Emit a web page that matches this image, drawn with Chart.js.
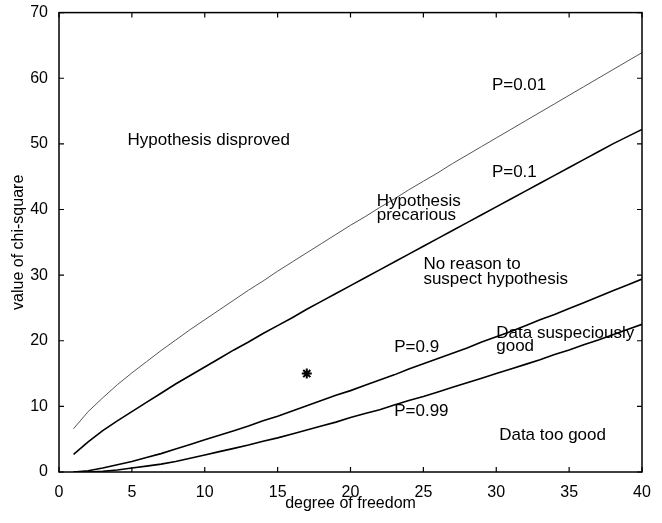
<!DOCTYPE html>
<html>
<head>
<meta charset="utf-8">
<script src="https://cdn.jsdelivr.net/npm/chart.js@4.4.1/dist/chart.umd.min.js"></script>
<style>
  html, body { margin: 0; padding: 0; background: #fff; }
  #wrap { width: 662px; height: 523px; }
</style>
</head>
<body>
<div id="wrap"><canvas id="chiChart" width="662" height="523"></canvas></div>
<script>
// degrees of freedom
const dof = [1,2,3,4,5,6,7,8,9,10,11,12,13,14,15,16,17,18,19,20,
             21,22,23,24,25,26,27,28,29,30,31,32,33,34,35,36,37,38,39,40];

// chi-square values
const p001 = [6.6,9.2,11.3,13.3,15.1,16.8,18.5,20.1,21.7,23.2,24.7,26.2,27.7,29.1,30.6,32.0,33.4,34.8,36.2,37.6,
              38.9,40.3,41.6,43.0,44.3,45.6,47.0,48.3,49.6,50.9,52.2,53.5,54.8,56.1,57.4,58.7,60.0,61.3,62.6,63.9];
const p01  = [2.7,4.6,6.3,7.8,9.2,10.6,12.0,13.4,14.7,16.0,17.3,18.6,19.8,21.1,22.3,23.5,24.8,26.0,27.2,28.4,
              29.6,30.8,32.0,33.2,34.4,35.6,36.8,38.0,39.2,40.4,41.6,42.8,44.0,45.2,46.4,47.6,48.8,50.0,51.1,52.2];
const p09  = [0.0,0.2,0.6,1.1,1.6,2.2,2.8,3.5,4.2,4.9,5.6,6.3,7.0,7.8,8.5,9.3,10.1,10.9,11.7,12.4,
              13.2,14.0,14.8,15.7,16.5,17.3,18.1,18.9,19.8,20.6,21.4,22.3,23.2,24.0,24.9,25.8,26.7,27.6,28.5,29.4];
const p099 = [0.0,0.0,0.1,0.3,0.6,0.9,1.2,1.6,2.1,2.6,3.1,3.6,4.1,4.7,5.2,5.8,6.4,7.0,7.6,8.3,
              8.9,9.5,10.2,10.9,11.5,12.2,12.9,13.6,14.3,15.0,15.7,16.4,17.1,17.9,18.6,19.4,20.1,20.9,21.7,22.5];

// the single observed point
const observed = [{ x: 17, y: 15 }];

// tick labels
const xTicks = [0,5,10,15,20,25,30,35,40];
const yTicks = [0,10,20,30,40,50,60,70];

// annotations: [text, dof, chi-square]
const notes = [
    ["P=0.01", 29.7, 58.9],
    ["Hypothesis disproved", 4.7, 50.5],
    ["P=0.1", 29.7, 45.6],
    ["Hypothesis", 21.8, 41.2],
    ["precarious", 21.8, 39.1],
    ["No reason to", 25.0, 31.6],
    ["suspect hypothesis", 25.0, 29.3],
    ["P=0.9", 23.0, 19.0],
    ["Data suspeciously", 30.0, 21.1],
    ["good", 30.0, 19.1],
    ["P=0.99", 23.0, 9.3],
    ["Data too good", 30.2, 5.6]
];

const FONT = '"Liberation Sans", Arial, sans-serif';

const toXY = arr => arr.map((v, i) => ({ x: dof[i], y: v }));

// MATLAB-like box with inward ticks + text labels
const framePlugin = {
    id: 'frame',
    afterDraw(chart) {
        const { ctx, chartArea: a, scales } = chart;
        const xs = scales.x, ys = scales.y;
        ctx.save();
        ctx.strokeStyle = '#000';
        ctx.lineWidth = 1.5;
        ctx.strokeRect(a.left, a.top, a.right - a.left, a.bottom - a.top);
        ctx.lineWidth = 1.2;
        const tl = 5;
        xTicks.forEach(v => {
            const px = xs.getPixelForValue(v);
            ctx.beginPath();
            ctx.moveTo(px, a.bottom); ctx.lineTo(px, a.bottom - tl);
            ctx.moveTo(px, a.top); ctx.lineTo(px, a.top + tl);
            ctx.stroke();
        });
        yTicks.forEach(v => {
            const py = ys.getPixelForValue(v);
            ctx.beginPath();
            ctx.moveTo(a.left, py); ctx.lineTo(a.left + tl, py);
            ctx.moveTo(a.right, py); ctx.lineTo(a.right - tl, py);
            ctx.stroke();
        });
        ctx.fillStyle = '#000';
        ctx.font = '17px ' + FONT;
        ctx.textBaseline = 'middle';
        ctx.textAlign = 'left';
        notes.forEach(([t, x, y]) => {
            ctx.fillText(t, xs.getPixelForValue(x), ys.getPixelForValue(y));
        });
        ctx.restore();
    }
};

new Chart(document.getElementById('chiChart').getContext('2d'), {
    type: 'line',
    data: {
        datasets: [
            { label: 'P=0.01', data: toXY(p001), borderColor: '#555', borderWidth: 1 },
            { label: 'P=0.1', data: toXY(p01), borderColor: '#000', borderWidth: 1.6 },
            { label: 'P=0.9', data: toXY(p09), borderColor: '#000', borderWidth: 1.6 },
            { label: 'P=0.99', data: toXY(p099), borderColor: '#000', borderWidth: 1.6 },
            {
                type: 'scatter', label: 'observed', data: observed,
                pointStyle: 'star', pointRadius: 5, borderColor: '#000', borderWidth: 2
            }
        ]
    },
    options: {
        responsive: false,
        animation: false,
        elements: { point: { radius: 0 }, line: { tension: 0 } },
        layout: { padding: { left: 0, top: 12, right: 20, bottom: 0 } },
        plugins: { legend: { display: false }, tooltip: { enabled: false } },
        scales: {
            x: {
                type: 'linear', min: 0, max: 40,
                afterFit: s => { s.height = 51; },
                afterBuildTicks: s => { s.ticks = xTicks.map(v => ({ value: v })); },
                grid: { display: false },
                border: { display: false },
                ticks: { color: '#000', padding: 3, font: { family: FONT, size: 16 }, maxRotation: 0 },
                title: { display: true, text: 'degree of freedom', color: '#000',
                         font: { family: FONT, size: 16 }, padding: { top: 0, bottom: 10 } }
            },
            y: {
                type: 'linear', min: 0, max: 70,
                afterFit: s => { s.width = 59; },
                afterBuildTicks: s => { s.ticks = yTicks.map(v => ({ value: v })); },
                grid: { display: false },
                border: { display: false },
                ticks: { color: '#000', padding: 3, font: { family: FONT, size: 16 } },
                title: { display: true, text: 'value of chi-square', color: '#000',
                         font: { family: FONT, size: 16 }, padding: { top: 9, bottom: 0 } }
            }
        }
    },
    plugins: [framePlugin]
});
</script>
</body>
</html>
